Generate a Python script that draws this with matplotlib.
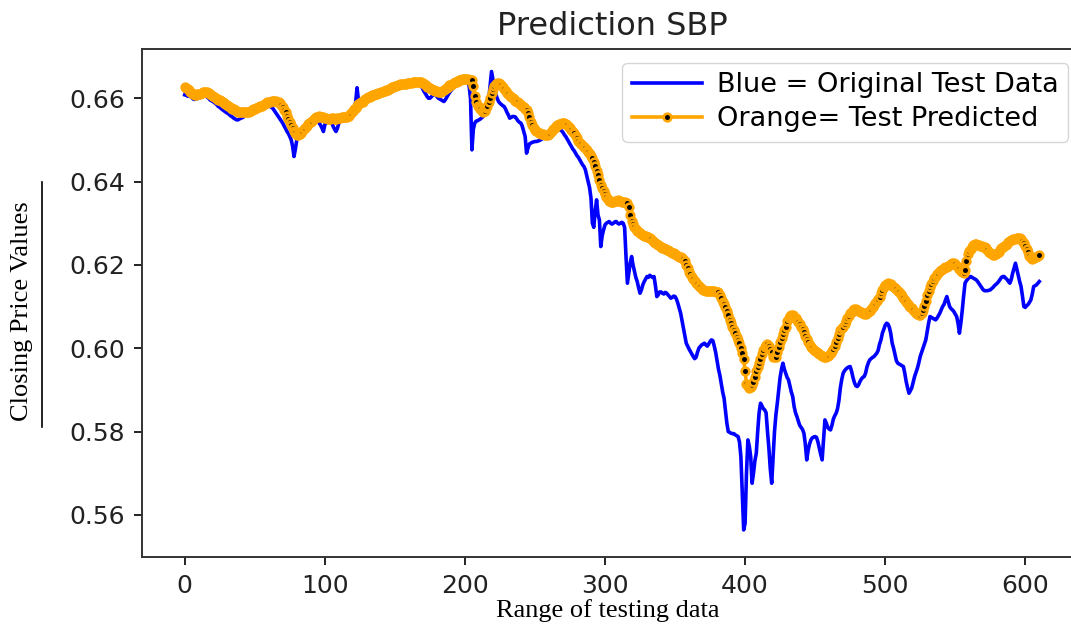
import numpy as np
import matplotlib.pyplot as plt
from matplotlib.lines import Line2D

# closing prices of the test window, stored in units of 1e-4
original_e4 = [
    6608, 6607, 6605, 6605, 6604, 6602, 6598, 6597, 6598, 6599,
    6600, 6602, 6604, 6605, 6606, 6605, 6603, 6600, 6596, 6594,
    6592, 6590, 6587, 6584, 6580, 6578, 6575, 6572, 6570, 6567,
    6565, 6563, 6560, 6557, 6555, 6552, 6550, 6548, 6548, 6550,
    6552, 6553, 6555, 6558, 6560, 6562, 6565, 6568, 6570, 6573,
    6575, 6577, 6580, 6582, 6584, 6585, 6586, 6586, 6585, 6584,
    6582, 6580, 6578, 6575, 6570, 6565, 6560, 6555, 6550, 6545,
    6540, 6533, 6527, 6520, 6515, 6508, 6500, 6485, 6460, 6478,
    6500, 6508, 6512, 6515, 6518, 6522, 6526, 6530, 6532, 6536,
    6540, 6543, 6545, 6546, 6546, 6544, 6540, 6535, 6528, 6520,
    6536, 6542, 6545, 6546, 6544, 6540, 6532, 6525, 6520, 6528,
    6540, 6546, 6550, 6552, 6554, 6555, 6557, 6558, 6559, 6560,
    6562, 6575, 6590, 6625, 6595, 6592, 6594, 6596, 6598, 6599,
    6600, 6601, 6602, 6604, 6605, 6606, 6608, 6610, 6612, 6613,
    6615, 6616, 6617, 6618, 6619, 6620, 6620, 6621, 6622, 6623,
    6624, 6625, 6626, 6627, 6627, 6628, 6629, 6630, 6631, 6632,
    6633, 6634, 6634, 6635, 6635, 6634, 6634, 6633, 6632, 6628,
    6622, 6615, 6610, 6604, 6600, 6600, 6603, 6607, 6610, 6608,
    6604, 6600, 6598, 6596, 6594, 6592, 6596, 6602, 6608, 6613,
    6618, 6622, 6626, 6630, 6633, 6635, 6637, 6638, 6639, 6640,
    6640, 6640, 6638, 6630, 6600, 6476, 6525, 6540, 6545, 6546,
    6548, 6550, 6553, 6556, 6560, 6568, 6580, 6596, 6630, 6664,
    6644, 6625, 6610, 6600, 6592, 6588, 6585, 6582, 6580, 6574,
    6566, 6560, 6552, 6554, 6556, 6556, 6555, 6550, 6545, 6542,
    6540, 6532, 6520, 6508, 6468, 6480, 6490, 6492, 6494, 6495,
    6496, 6496, 6497, 6498, 6500, 6502, 6504, 6506, 6510, 6514,
    6518, 6520, 6521, 6522, 6523, 6524, 6524, 6524, 6524, 6522,
    6518, 6512, 6508, 6502, 6496, 6490, 6484, 6478, 6474, 6468,
    6462, 6458, 6452, 6446, 6440, 6436, 6428, 6414, 6400, 6385,
    6360, 6300, 6290, 6330, 6356, 6320, 6308, 6244, 6270, 6284,
    6296, 6300, 6302, 6304, 6300, 6298, 6300, 6303, 6304, 6300,
    6298, 6300, 6302, 6300, 6290, 6220, 6156, 6180, 6205, 6220,
    6200, 6185, 6170, 6160, 6145, 6132, 6140, 6152, 6160, 6166,
    6172, 6170, 6175, 6172, 6170, 6172, 6150, 6124, 6128, 6135,
    6135, 6132, 6130, 6134, 6132, 6128, 6124, 6120, 6122, 6125,
    6124, 6118, 6108, 6096, 6084, 6066, 6048, 6030, 6012, 6005,
    5998, 5992, 5986, 5980, 5975, 5978, 5990, 6000, 6004, 6008,
    6010, 6012, 6008, 6005, 6010, 6016, 6020, 6018, 6005, 5990,
    5970, 5950, 5935, 5915, 5895, 5880, 5850, 5820, 5800, 5798,
    5796, 5795, 5795, 5792, 5790, 5788, 5775, 5740, 5650, 5564,
    5580, 5700, 5780, 5765, 5740, 5676, 5700, 5730, 5748, 5800,
    5845, 5868, 5862, 5855, 5852, 5845, 5800, 5760, 5710, 5676,
    5740, 5800, 5840, 5868, 5900, 5930, 5950, 5964, 5950, 5940,
    5930, 5924, 5910, 5895, 5884, 5860, 5845, 5836, 5825, 5815,
    5810, 5805, 5796, 5770, 5732, 5755, 5770, 5780, 5785, 5787,
    5788, 5786, 5775, 5760, 5745, 5732, 5780, 5828, 5820, 5810,
    5806, 5804, 5815, 5830, 5838, 5844, 5855, 5875, 5905, 5925,
    5940, 5946, 5950, 5953, 5955, 5956, 5945, 5930, 5918, 5910,
    5908, 5912, 5920, 5926, 5930, 5932, 5940, 5955, 5965, 5972,
    5975, 5978, 5980, 5984, 5988, 5995, 6010, 6020, 6036, 6045,
    6055, 6060, 6058, 6050, 6035, 6012, 6000, 5985, 5970, 5964,
    5962, 5960, 5958, 5956, 5940, 5920, 5905, 5892, 5898, 5905,
    5918, 5932, 5942, 5952, 5965, 5980, 5990, 6000, 6010, 6020,
    6040, 6060, 6076, 6074, 6072, 6070, 6068, 6072, 6078, 6084,
    6092, 6100, 6105, 6115, 6124, 6112, 6100, 6095, 6092, 6088,
    6082, 6076, 6060, 6036, 6060, 6090, 6125, 6156, 6162, 6166,
    6170, 6172, 6170, 6168, 6166, 6164, 6160, 6155, 6150, 6145,
    6140, 6138, 6138, 6138, 6139, 6140, 6143, 6146, 6150, 6153,
    6156, 6160, 6165, 6170, 6172, 6172, 6168, 6165, 6160, 6156,
    6165, 6180, 6192, 6204, 6190, 6175, 6160, 6148, 6125, 6100,
    6098, 6102, 6105, 6110, 6116, 6130, 6148, 6150, 6152, 6156,
    6160,
]

predicted_e4 = [
    6627, 6625, 6622, 6619, 6616, 6613, 6610, 6608, 6608, 6609,
    6610, 6611, 6613, 6614, 6615, 6616, 6615, 6613, 6610, 6608,
    6605, 6603, 6600, 6598, 6596, 6595, 6593, 6590, 6588, 6586,
    6584, 6581, 6579, 6577, 6575, 6573, 6571, 6569, 6568, 6567,
    6566, 6566, 6566, 6567, 6567, 6568, 6568, 6569, 6571, 6573,
    6575, 6577, 6579, 6580, 6581, 6582, 6584, 6586, 6588, 6590,
    6591, 6592, 6593, 6594, 6594, 6593, 6592, 6590, 6588, 6584,
    6578, 6572, 6566, 6558, 6550, 6543, 6536, 6529, 6522, 6516,
    6512, 6511, 6513, 6517, 6521, 6525, 6529, 6533, 6537, 6540,
    6543, 6546, 6549, 6552, 6554, 6556, 6557, 6556, 6555, 6554,
    6553, 6552, 6551, 6551, 6551, 6552, 6552, 6551, 6551, 6552,
    6552, 6553, 6554, 6554, 6555, 6556, 6556, 6558, 6561, 6565,
    6569, 6573, 6577, 6581, 6585, 6588, 6590, 6592, 6595, 6598,
    6600, 6602, 6604, 6606, 6607, 6608, 6609, 6610, 6612, 6613,
    6615, 6616, 6617, 6618, 6619, 6620, 6622, 6624, 6626, 6628,
    6629, 6630, 6631, 6632, 6633, 6634, 6634, 6635, 6635, 6636,
    6636, 6637, 6637, 6638, 6638, 6639, 6640, 6640, 6640, 6639,
    6637, 6634, 6631, 6628, 6626, 6624, 6622, 6620, 6619, 6618,
    6617, 6616, 6616, 6616, 6617, 6619, 6622, 6625, 6628, 6631,
    6632, 6634, 6636, 6638, 6640, 6642, 6643, 6644, 6645, 6645,
    6645, 6645, 6645, 6644, 6644, 6643, 6630, 6605, 6590, 6582,
    6578, 6573, 6569, 6567, 6570, 6576, 6582, 6590, 6600, 6612,
    6622, 6630, 6635, 6637, 6636, 6634, 6632, 6628, 6623, 6618,
    6612, 6609, 6606, 6603, 6600, 6597, 6594, 6592, 6590, 6587,
    6584, 6581, 6578, 6575, 6572, 6565, 6555, 6544, 6535, 6528,
    6524, 6521, 6518, 6516, 6515, 6514, 6513, 6512, 6512, 6512,
    6514, 6517, 6521, 6525, 6529, 6533, 6536, 6538, 6539, 6540,
    6540, 6540, 6539, 6536, 6532, 6528, 6524, 6520, 6516, 6510,
    6504, 6498, 6493, 6489, 6486, 6484, 6480, 6476, 6472, 6467,
    6462, 6456, 6447, 6437, 6426, 6415, 6403, 6391, 6384, 6377,
    6370, 6364, 6359, 6354, 6350, 6350, 6351, 6353, 6354, 6355,
    6354, 6353, 6352, 6351, 6350, 6349, 6348, 6340, 6320, 6305,
    6298, 6292, 6287, 6282, 6278, 6276, 6274, 6272, 6270, 6269,
    6268, 6266, 6264, 6261, 6258, 6255, 6252, 6249, 6247, 6245,
    6243, 6241, 6240, 6238, 6236, 6235, 6233, 6231, 6229, 6228,
    6226, 6224, 6222, 6220, 6218, 6216, 6214, 6210, 6200, 6192,
    6184, 6177, 6172, 6167, 6162, 6157, 6153, 6149, 6146, 6143,
    6140, 6139, 6138, 6138, 6138, 6138, 6137, 6137, 6137, 6136,
    6136, 6134, 6128, 6120, 6112, 6106, 6098, 6090, 6080, 6068,
    6060, 6052, 6044, 6036, 6028, 6020, 6012, 6000, 5988, 5975,
    5945, 5915, 5910, 5905, 5908, 5912, 5920, 5932, 5945, 5955,
    5965, 5975, 5985, 5995, 6004, 6008, 6010, 6005, 5998, 5990,
    5980, 5978, 5980, 5990, 6002, 6015, 6025, 6035, 6044, 6052,
    6065, 6073, 6078, 6080, 6079, 6076, 6072, 6068, 6063, 6058,
    6052, 6045, 6038, 6030, 6022, 6014, 6008, 6004, 6000, 5996,
    5993, 5990, 5988, 5986, 5984, 5982, 5980, 5980, 5980, 5981,
    5984, 5988, 5993, 5999, 6006, 6014, 6024, 6034, 6043, 6048,
    6052, 6058, 6065, 6072, 6078, 6084, 6088, 6092, 6093, 6093,
    6092, 6090, 6088, 6086, 6084, 6083, 6083, 6084, 6086, 6090,
    6094, 6098, 6103, 6108, 6113, 6118, 6124, 6132, 6140, 6147,
    6152, 6155, 6156, 6155, 6153, 6150, 6147, 6144, 6141, 6138,
    6134, 6130, 6126, 6120, 6115, 6110, 6106, 6102, 6100, 6096,
    6092, 6088, 6084, 6081, 6080, 6080, 6084, 6092, 6102, 6114,
    6128, 6138, 6148, 6155, 6162, 6168, 6173, 6177, 6181, 6185,
    6188, 6190, 6192, 6194, 6196, 6198, 6200, 6202, 6204, 6204,
    6202, 6198, 6194, 6190, 6186, 6183, 6180, 6188, 6210, 6225,
    6233, 6239, 6244, 6248, 6249, 6249, 6248, 6247, 6246, 6245,
    6244, 6242, 6240, 6236, 6232, 6228, 6225, 6224, 6224, 6226,
    6229, 6232, 6236, 6240, 6243, 6245, 6248, 6251, 6254, 6257,
    6259, 6261, 6262, 6263, 6264, 6265, 6264, 6262, 6258, 6252,
    6246, 6238, 6230, 6222, 6216, 6214, 6216, 6218, 6220, 6222,
    6224,
]

original = np.array(original_e4) / 1e4
predicted = np.array(predicted_e4) / 1e4

fig = plt.figure(figsize=(10.71, 6.24), dpi=100)
ax = fig.add_axes([142 / 1071, 67 / 624, 940 / 1071, 508 / 624])

ax.plot(original, color='blue', linewidth=2.6, label='Blue = Original Test Data')
ax.plot(predicted, color='orange', linewidth=2.6, marker='.', markersize=11,
        markeredgewidth=1.9, markerfacecolor='black',
        label='Orange= Test Predicted')

ax.set_ylim(0.5499, 0.6718)
ax.set_yticks([0.56, 0.58, 0.60, 0.62, 0.64, 0.66])
ax.set_xticks([0, 100, 200, 300, 400, 500, 600])
ax.tick_params(labelsize=18, length=6, width=1.4, pad=6, colors='#222222')
for s in ax.spines.values():
    s.set_linewidth(1.4)
    s.set_color('#333333')

ax.set_title('Prediction SBP', fontsize=23, pad=10, color='#222222')
ax.legend(loc='upper right', fontsize=19.5, labelspacing=0.3,
          handlelength=2.6, handletextpad=0.55, borderpad=0.35)

fig.text(0.021, 0.5016, 'Closing Price Values', rotation=90, ha='center',
         va='center', fontsize=19, family='Liberation Serif')
fig.add_artist(Line2D([0.0389, 0.0389], [0.3157, 0.7083], color='black',
                      linewidth=1.2))
fig.text(607.5 / 1071, 1 - 617 / 624, 'Range of testing data', ha='center',
         va='baseline', fontsize=19, family='Liberation Serif')

fig.savefig('out.png', dpi=100)
